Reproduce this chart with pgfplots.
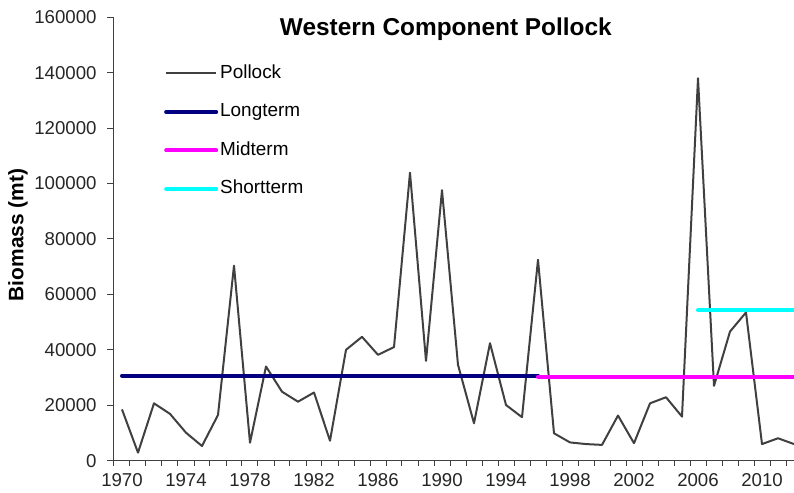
\documentclass[border=0pt]{standalone}
\usepackage{pgfplots}
\pgfplotsset{compat=1.18}
\usepackage{fontspec}
\setmainfont{Liberation Sans}
\definecolor{pollock}{HTML}{404040}
\definecolor{longterm}{HTML}{000080}
\definecolor{midterm}{HTML}{FF00FF}
\definecolor{shortterm}{HTML}{00FFFF}
\begin{document}
\begin{tikzpicture}
\path[use as bounding box] (-114bp,-32.3bp) rectangle (680bp,460.7bp);
\begin{axis}[
  at={(0,0)}, anchor=south west,
  width=680bp, height=443.4bp, scale only axis,
  xmin=1969.5, xmax=2012, ymin=0, ymax=160000,
  axis x line*=bottom, axis y line*=left,
  axis line style={color=pollock, line width=1bp},
  xtick={1970,1974,...,2010},
  minor xtick={1969.5,1970.5,...,2011.5},
  ytick={0,20000,...,160000},
  tick align=outside,
  major tick length=7bp, minor tick length=5bp,
  major x tick style={draw=none},
  tick style={color=pollock, line width=1bp},
  scaled y ticks=false,
  /pgf/number format/fixed,
  /pgf/number format/precision=0,
  /pgf/number format/1000 sep={},
  /pgf/number format/assume math mode=true,
  tick label style={font=\fontsize{18.7}{20}\selectfont, color=black!85},
  yticklabel style={xshift=-7bp},
  xticklabel style={yshift=-2bp},
  ylabel={Biomass (mt)},
  every axis y label/.style={at={(axis description cs:-0.1412,0.509)}, rotate=90, anchor=center, font=\bfseries\fontsize{21}{24}\selectfont},
  title={Western Component Pollock},
  title style={at={(axis description cs:0.488,0.945)}, anchor=base, font=\bfseries\fontsize{24.5}{27}\selectfont},
  legend style={at={(axis description cs:0.0735,0.894)}, anchor=north west, draw=none, fill=none,
    font=\fontsize{19}{21}\selectfont, row sep=20.5bp, column sep=2bp, inner sep=0pt,
    nodes={inner sep=0pt, text height=14bp, text depth=4bp}},
  legend cell align=left,
  legend image code/.code={\draw[#1] (0bp,0bp) -- (50bp,0bp);},
]
\addplot[color=pollock, line width=2bp, line join=round] coordinates {
(1970,18500) (1971,2900) (1972,20700) (1973,16900) (1974,10100) (1975,5300)
(1976,16500) (1977,70400) (1978,6500) (1979,34000) (1980,24900) (1981,21300)
(1982,24600) (1983,7200) (1984,40000) (1985,44700) (1986,38200) (1987,41000)
(1988,103900) (1989,36000) (1990,97600) (1991,34600) (1992,13500) (1993,42400)
(1994,20100) (1995,15700) (1996,72500) (1997,9900) (1998,6600) (1999,6000)
(2000,5700) (2001,16300) (2002,6300) (2003,20700) (2004,22900) (2005,15900)
(2006,138000) (2007,27000) (2008,46600) (2009,53500) (2010,6000) (2011,8100)
(2012,6000)};
\addlegendentry{Pollock}
\addplot[color=longterm, line width=4bp, line cap=round] coordinates {(1970,30700) (1996,30700)};
\addlegendentry{Longterm}
\addplot[color=midterm, line width=4bp, line cap=round] coordinates {(1996,30300) (2012,30300)};
\addlegendentry{Midterm}
\addplot[color=shortterm, line width=4bp, line cap=round] coordinates {(2006,54300) (2012,54300)};
\addlegendentry{Shortterm}
\end{axis}
\end{tikzpicture}
\end{document}
